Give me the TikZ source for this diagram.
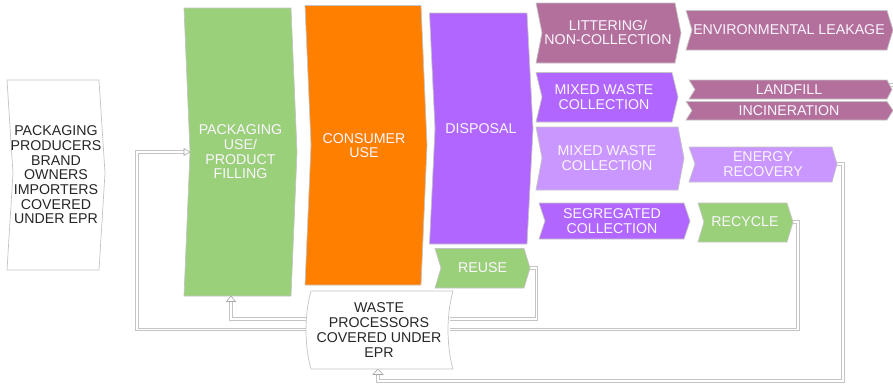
\documentclass[tikz,border=0pt]{standalone}
\usepackage{fontspec}
\setmainfont{Liberation Sans}
\usetikzlibrary{backgrounds}
\definecolor{cgreen}{HTML}{9BD07A}
\definecolor{corange}{HTML}{FF8000}
\definecolor{cpurple}{HTML}{B066FF}
\definecolor{clight}{HTML}{C997FF}
\definecolor{cmauve}{HTML}{B3709C}
\definecolor{cedge}{HTML}{C4C4C4}
\definecolor{ctext}{HTML}{FBF6FF}
\definecolor{cdark}{HTML}{262626}
\tikzset{
  shapeline/.style={draw=cedge,line width=.7pt,line join=miter},
  lbl/.style={font=\fontsize{14.2}{14.7}\selectfont,align=center,text=ctext,inner sep=0pt},
  lbldark/.style={lbl,text=cdark},
  link/.style={draw=cedge,line width=3.1pt,line join=miter,postaction={draw=white,line width=1.5pt,line join=miter}},
  arrowhead/.style={draw=cedge!85!black,fill=white,line width=.6pt,line join=miter},
}
% name, fill, x0, y0, x1, y1, tip x, notch x, mid y
\newcommand{\chev}[9]{%
  \path[shapeline,fill=#2] (#3,#4) -- (#5,#4) -- (#7,#9) -- (#5,#6) -- (#3,#6) -- (#8,#9) -- cycle;
  \coordinate (#1-tip) at (#7,#9);
  \coordinate (#1-notch) at (#8,#9);
}
\begin{document}
\begin{tikzpicture}[x=1pt,y=-1pt]
\useasboundingbox (0,0) rectangle (893,384);
\chev{producers}{white}{7}{80}{99}{270}{105}{13}{173}
\chev{green}{cgreen}{184}{8}{291}{296}{297}{190}{152}
\chev{orange}{corange}{305}{5.5}{421}{285}{427}{311}{145}
\chev{disposal}{cpurple}{429.5}{13}{527}{244}{533}{435}{129}
\chev{reuse}{cgreen}{435}{248.5}{524}{288}{530}{441}{268}
\chev{litter}{cmauve}{536}{3}{675}{63}{681}{542}{33}
\chev{env}{cmauve}{686}{10.5}{887}{50}{893}{692}{30}
\chev{mixeda}{cpurple}{536}{72.5}{672}{122}{678}{542}{97}
\chev{landfill}{cmauve}{689}{80}{887}{99}{892}{695}{89.5}
\chev{incin}{cmauve}{686}{101.5}{887}{120}{893}{692}{110.5}
\chev{mixedb}{clight}{536}{127}{678}{190}{684}{542}{158}
\chev{energy}{clight}{689}{147}{832}{182}{837}{695}{164}
\chev{seg}{cpurple}{539}{203}{684}{239}{690}{545}{221}
\chev{recycle}{cgreen}{698}{203}{787}{242}{793}{704}{222}
% named end points of connectors
\coordinate (green-bottom) at (231,296);
\coordinate (green-bottom-neck) at (231,301);
\coordinate (green-left-neck) at (185,152);
\coordinate (wp-bottom) at (378,369);
\coordinate (wp-bottom-neck) at (378,374);
\coordinate (wp-east-a) at (450,319);
\coordinate (wp-west-a) at (310,319);
\coordinate (wp-east-b) at (450,329.5);
\coordinate (wp-west-b) at (310,329.5);
\coordinate (landfill-stub-a) at (888,85);
\coordinate (landfill-stub-b) at (893,85);
% connectors, behind the shapes
\begin{scope}[on background layer]
\draw[link] (reuse-tip) -- ++(6.5,0) |- (wp-east-a);
\draw[link] (wp-west-a) -| (green-bottom-neck);
\draw[link] (recycle-tip) -- ++(5,0) |- (wp-east-b);
\draw[link] (wp-west-b) -- (137,329.5) |- (green-left-neck);
\draw[link] (energy-tip) -- ++(6,0) |- (378,381) -- (wp-bottom-neck);
\draw[link] (landfill-stub-a) -- (landfill-stub-b);
\end{scope}
\path[arrowhead] (190,152) -- (184,148.5) -- (184,155.5) -- cycle;
\path[arrowhead] (green-bottom) -- (226.5,301.5) -- (235.5,301.5) -- cycle;
\path[arrowhead] (wp-bottom) -- (373,374.5) -- (383,374.5) -- cycle;
% waste processors
\path[shapeline,fill=white] (311,291) -- (453,291) .. controls (449,305) and (448,320) .. (448,330) .. controls (448,340) and (449,355) .. (453,369) -- (311,369) .. controls (307,355) and (306,340) .. (306,330) .. controls (306,320) and (307,305) .. (311,291) -- cycle;
% labels
\node[lbldark] (tproducers) at (56,175) {PACKAGING\\PRODUCERS\\BRAND\\OWNERS\\IMPORTERS\\COVERED\\UNDER EPR};
\node[lbl] (tgreen) at (240.5,152) {PACKAGING\\USE/\\PRODUCT\\FILLING};
\node[lbl] (torange) at (364,145.5) {CONSUMER\\USE};
\node[lbl] (tdisposal) at (481,128.5) {DISPOSAL};
\node[lbl] (treuse) at (482.7,268) {REUSE};
\node[lbldark] (twp) at (379,330) {WASTE\\PROCESSORS\\COVERED UNDER\\EPR};
\node[lbl] (tlitter) at (608,32.5) {LITTERING/\\NON-COLLECTION};
\node[lbl] (tenv) at (789,30) {ENVIRONMENTAL LEAKAGE};
\node[lbl] (tmixeda) at (604,97) {MIXED WASTE\\COLLECTION};
\node[lbl] (tlandfill) at (789,89.5) {LANDFILL};
\node[lbl] (tincin) at (789,110.5) {INCINERATION};
\node[lbl] (tmixedb) at (607,158) {MIXED WASTE\\COLLECTION};
\node[lbl] (tenergy) at (763,164) {ENERGY\\RECOVERY};
\node[lbl] (tseg) at (612,221) {SEGREGATED\\COLLECTION};
\node[lbl] (trecycle) at (745,222) {RECYCLE};
\end{tikzpicture}
\end{document}
